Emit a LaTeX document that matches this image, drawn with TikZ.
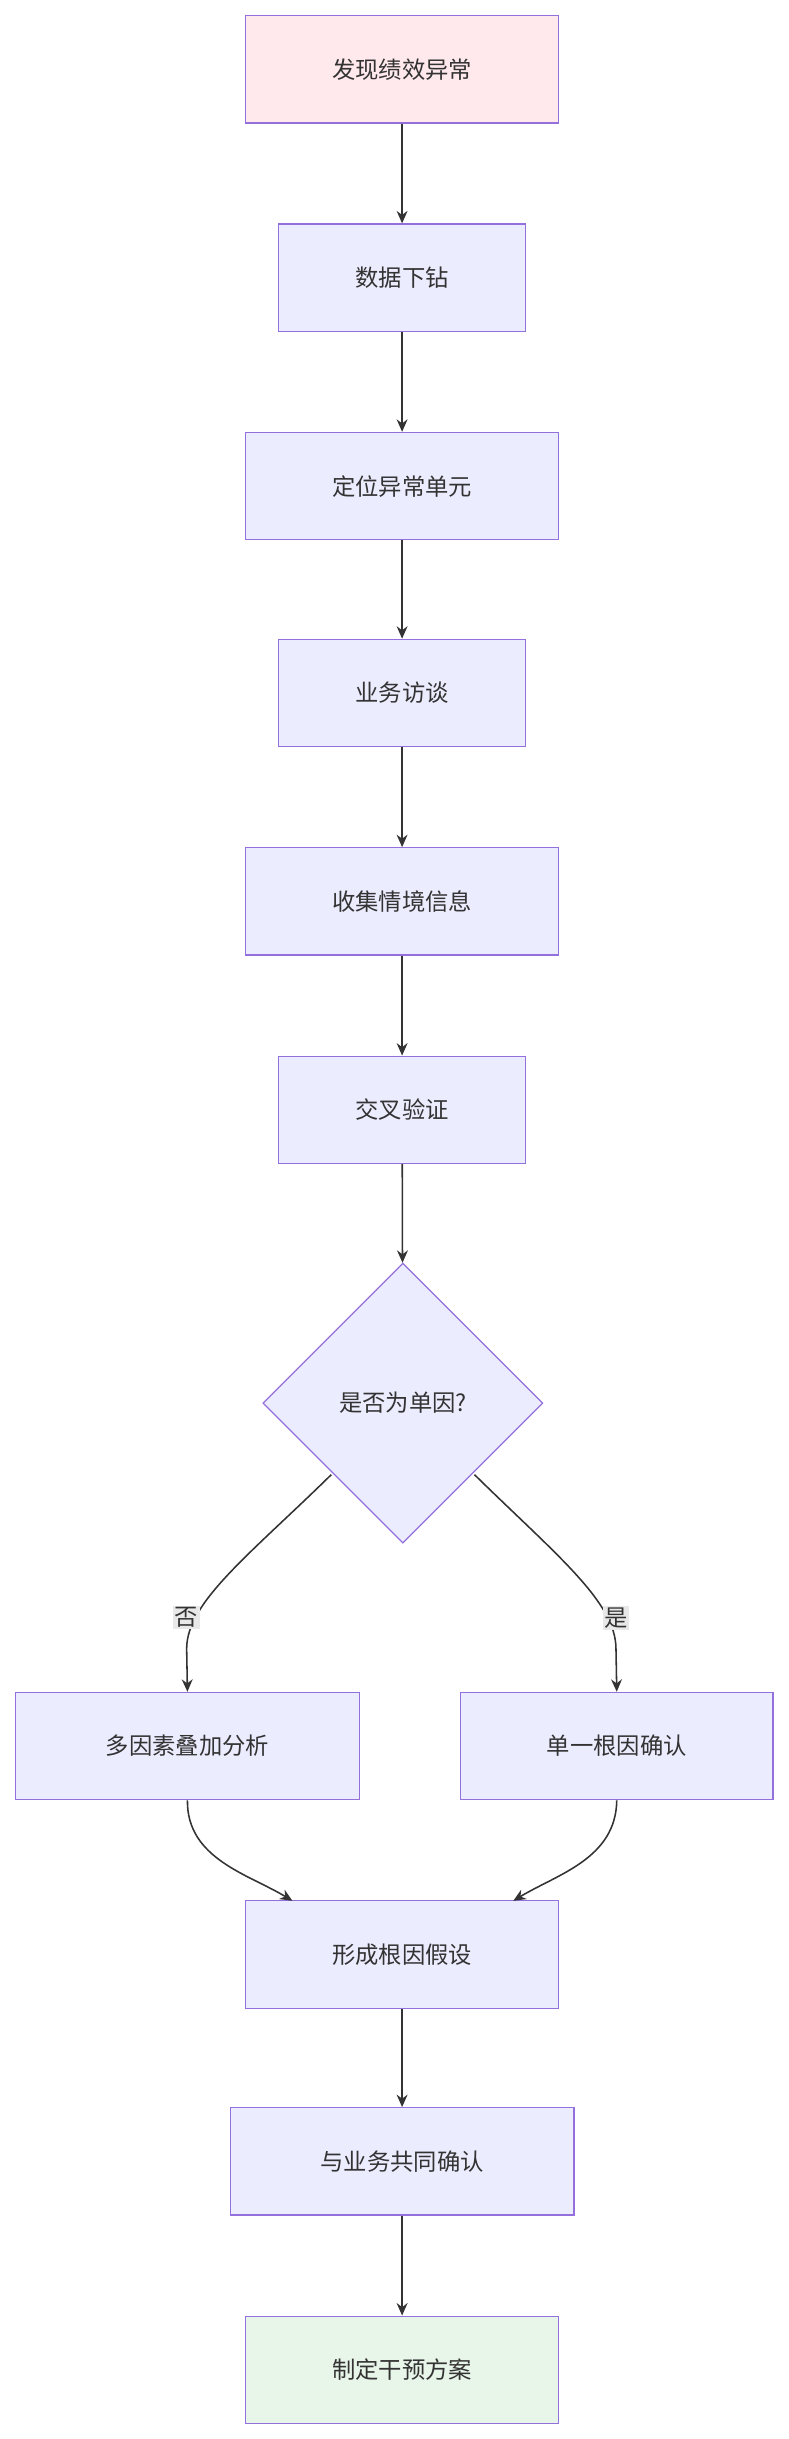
\documentclass[tikz,border=0pt]{standalone}
\usepackage{fontspec}
\setmainfont{Noto Sans CJK SC}
\usetikzlibrary{shapes.geometric,arrows.meta}
\definecolor{nf}{HTML}{ECECFF}
\definecolor{nb}{HTML}{9370DB}
\definecolor{pk}{HTML}{FFE9EC}
\definecolor{gr}{HTML}{E8F5E9}
\definecolor{ln}{HTML}{333333}
\definecolor{lb}{HTML}{E8E8E8}
\begin{document}
\begin{tikzpicture}[x=1pt,y=-1pt,
 box/.style={draw=nb,fill=nf,line width=0.8pt,font=\fontsize{15}{18}\selectfont,text=ln},
 arr/.style={draw=ln,line width=1pt,-{Stealth[length=8pt,width=7pt]}},
 lab/.style={fill=lb,inner sep=1pt,font=\fontsize{15}{18}\selectfont,text=ln}]
\useasboundingbox (0,0) rectangle (507,1568);
\newcommand{\bx}[6]{\node[box,fill=#6,minimum width=#3-#2,minimum height=69] (#1) at ({(#2+#3)/2},#4) {#5};}
\bx{a}{158}{359}{44.5}{发现绩效异常}{pk}
\bx{b}{179}{338}{178.5}{数据下钻}{nf}
\bx{c}{158}{359}{312.5}{定位异常单元}{nf}
\bx{d}{179}{338}{445.5}{业务访谈}{nf}
\bx{e}{158}{359}{579.5}{收集情境信息}{nf}
\bx{f}{179}{338}{713.5}{交叉验证}{nf}
\node[box,diamond,minimum width=180,minimum height=180,inner sep=0] (g) at (259,902) {是否为单因?};
\bx{l}{10}{231}{1122.5}{多因素叠加分析}{nf}
\bx{r}{296}{497}{1122.5}{单一根因确认}{nf}
\bx{h}{158}{359}{1256.5}{形成根因假设}{nf}
\bx{i}{148}{369}{1389.5}{与业务共同确认}{nf}
\bx{j}{158}{359}{1523.5}{制定干预方案}{gr}
\foreach \p/\q in {a/b,b/c,c/d,d/e,e/f,f/g,h/i,i/j} \draw[arr] (\p) -- (\q);
\coordinate (gl) at (213,948); \coordinate (gr) at (305,948);
\coordinate (hl) at (188,1222); \coordinate (hr) at (330,1222);
\draw[arr] (gl) .. controls (160,1000) and (120,1030) .. (120,1060) -- (l.north);
\draw[arr] (gr) .. controls (358,1000) and (396,1030) .. (396,1060) -- (r.north);
\node[lab] (ln) at (120,1040) {否};
\node[lab] (rn) at (396,1040) {是};
\draw[arr] (l.south) .. controls (120,1195) and (160,1205) .. (hl);
\draw[arr] (r.south) .. controls (396,1195) and (358,1205) .. (hr);
\end{tikzpicture}
\end{document}
